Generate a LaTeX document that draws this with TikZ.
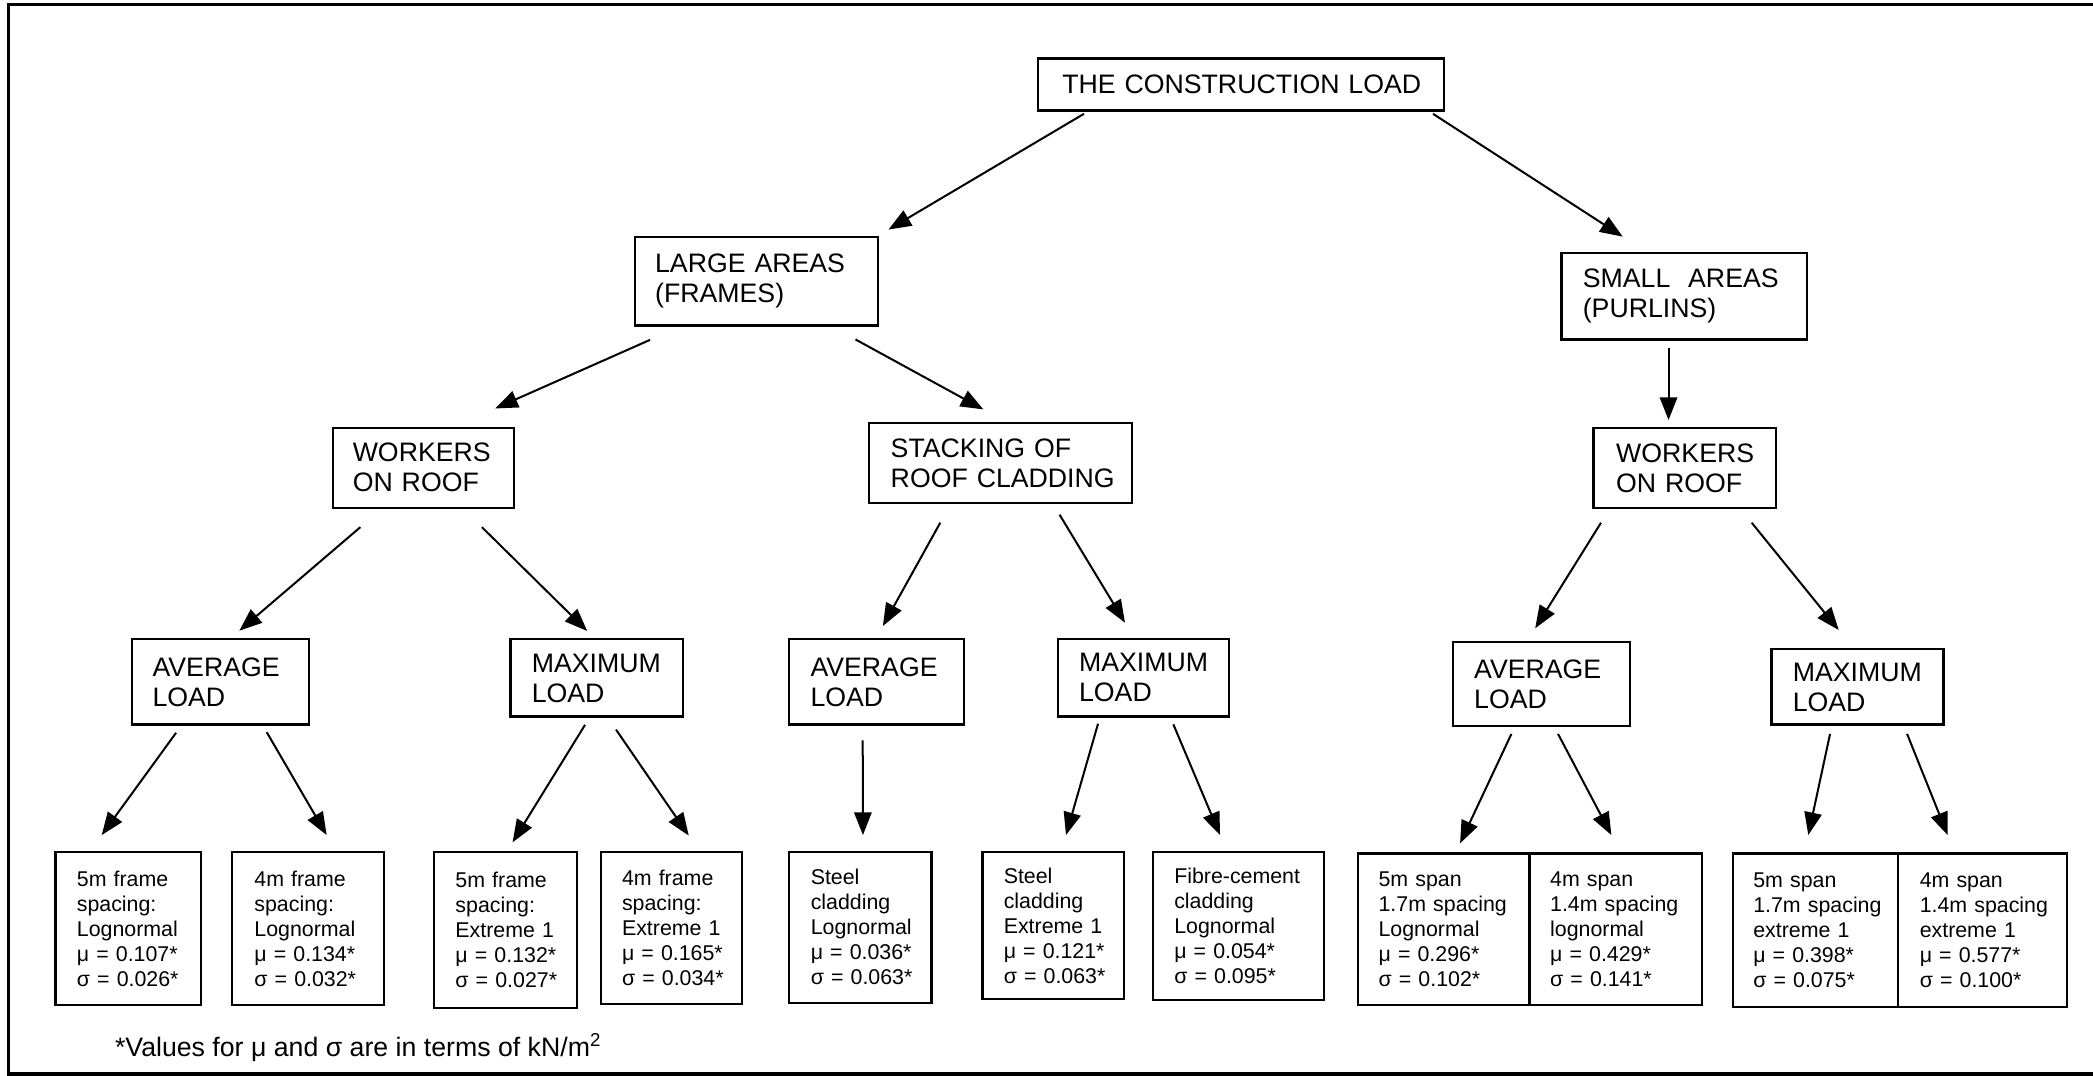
\documentclass[tikz,border=0pt]{standalone}
\usepackage{fontspec}
\setmainfont{Liberation Sans}
\usetikzlibrary{arrows.meta}
\hyphenpenalty=10000
\exhyphenpenalty=10000

% box from corner (x1,y1) to (x2,y2), text indented by a pad on both sides
% #1 style, #2 name, #3 x1, #4 y1, #5 x2, #6 y2, #7 pad, #8 text
\newcommand\placebox[8]{%
  \pgfmathsetmacro\bxw{#5-#3}%
  \pgfmathsetmacro\bxh{#6-#4}%
  \pgfmathsetmacro\bxt{#5-#3-2*#7}%
  \node[#1, anchor=north west, minimum width=\bxw pt, minimum height=\bxh pt,
        text width=\bxt pt] (#2) at (#3,#4) {#8};}

\tikzset{
  box/.style={draw, line width=1.6pt, inner sep=0pt, align=left},
  bigbox/.style={box, font=\fontsize{20}{22.5}\selectfont},
  leafbox/.style={box, font=\fontsize{16}{18.7}\selectfont},
  arr/.style={line width=1.5pt, -{Triangle[length=17pt,width=13pt]}},
}

\begin{document}
\begin{tikzpicture}[x=1pt, y=-1pt]
\useasboundingbox (0,0) rectangle (1568,806);

% page frame: left, top and bottom rules
\draw[line width=2.6pt] (1568,3.5) -- (6.5,3.5) -- (6.5,804.5) -- (1568,804.5);

% top levels
\placebox{bigbox}{root}{777}{43}{1081}{82}{18}{THE~CONSTRUCTION~LOAD}
\placebox{bigbox}{large}{475}{177}{657}{243}{15}{LARGE~AREAS\\(FRAMES)}
\placebox{bigbox}{small}{1169}{189}{1353}{253.5}{16}{SMALL~~AREAS\\(PURLINS)}
\placebox{bigbox}{workL}{248.5}{319.6}{384}{379.6}{15}{WORKERS\\ON~ROOF}
\placebox{bigbox}{stack}{650.5}{316.4}{847}{376.3}{16}{STACKING~OF\\ROOF~CLADDING}
\placebox{bigbox}{workR}{1193}{320}{1330}{380}{17}{WORKERS\\ON~ROOF}

% load types
\placebox{bigbox}{avgL}{98}{478.2}{231}{542}{15.5}{AVERAGE\\LOAD}
\placebox{bigbox}{maxL}{381.6}{478.2}{510.8}{536}{16}{MAXIMUM\\LOAD}
\placebox{bigbox}{avgS}{590.4}{478.2}{721.5}{542}{16}{AVERAGE\\LOAD}
\placebox{bigbox}{maxS}{791.6}{478}{920}{536}{16}{MAXIMUM\\LOAD}
\placebox{bigbox}{avgR}{1087.6}{480}{1220.3}{543.2}{16}{AVERAGE\\LOAD}
\placebox{bigbox}{maxR}{1326.3}{485.7}{1455.2}{542}{16}{MAXIMUM\\LOAD}

% distributions
\placebox{leafbox}{l1}{40.8}{637.3}{149.5}{752.4}{16}{5m~frame\\spacing:\\Lognormal\\μ~=~0.107*\\σ~=~0.026*}
\placebox{leafbox}{l2}{173.3}{637.3}{286.6}{752.4}{16.5}{4m~frame\\spacing:\\Lognormal\\μ~=~0.134*\\σ~=~0.032*}
\placebox{leafbox}{l3}{324.4}{637.3}{431.4}{754.2}{16}{5m~frame\\spacing:\\Extreme~1\\μ~=~0.132*\\σ~=~0.027*}
\placebox{leafbox}{l4}{449.2}{637.3}{555.1}{751.6}{16}{4m~frame\\spacing:\\Extreme~1\\μ~=~0.165*\\σ~=~0.034*}
\placebox{leafbox}{l5}{590.6}{637.3}{697}{750.4}{16}{Steel\\cladding\\Lognormal\\μ~=~0.036*\\σ~=~0.063*}
\placebox{leafbox}{l6}{735.2}{637.3}{841.5}{747.9}{16}{Steel\\cladding\\Extreme~1\\μ~=~0.121*\\σ~=~0.063*}
\placebox{leafbox}{l7}{862.9}{637.3}{991.3}{748.5}{16}{Fibre-cement\\cladding\\Lognormal\\μ~=~0.054*\\σ~=~0.095*}
\placebox{leafbox}{l8}{1016.5}{638.6}{1145}{752.4}{15.5}{5m~span\\1.7m~spacing\\Lognormal\\μ~=~0.296*\\σ~=~0.102*}
\placebox{leafbox}{l9}{1145}{638.6}{1274.5}{752.4}{15.5}{4m~span\\1.4m~spacing\\lognormal\\μ~=~0.429*\\σ~=~0.141*}
\placebox{leafbox}{l10}{1297.2}{638.6}{1421.4}{753.4}{15.5}{5m~span\\1.7m~spacing\\extreme~1\\μ~=~0.398*\\σ~=~0.075*}
\placebox{leafbox}{l11}{1421.4}{638.6}{1547.8}{753.4}{16}{4m~span\\1.4m~spacing\\extreme~1\\μ~=~0.577*\\σ~=~0.100*}

% footnote
\node[anchor=base west, inner sep=0pt, font=\fontsize{20}{24}\selectfont] (note) at (86,791.6)
  {*Values for μ and σ are in terms of kN/m\textsuperscript{2}};

% connectors
\draw[arr] ([xshift=35pt,yshift=-1.7pt]root.south west) -- ([xshift=7pt,yshift=5pt]large.north east);
\draw[arr] ([xshift=-9pt,yshift=-1.7pt]root.south east) -- ([xshift=46.7pt,yshift=11.7pt]small.north west);
\draw[arr] ([xshift=12pt,yshift=-10pt]large.south west) -- ([xshift=122.5pt,yshift=13.6pt]workL.north west);
\draw[arr] ([xshift=-17.7pt,yshift=-9.7pt]large.south east) -- ([xshift=86.2pt,yshift=9.7pt]stack.north west);
\draw[arr] ([xshift=81pt,yshift=-5.5pt]small.south west) -- ([xshift=57pt,yshift=5.3pt]workR.north west);

\draw[arr] ([xshift=21.5pt,yshift=-13.7pt]workL.south west) -- ([xshift=81.3pt,yshift=5.7pt]avgL.north west);
\draw[arr] ([xshift=112.5pt,yshift=-13.7pt]workL.south west) -- ([xshift=58.3pt,yshift=5.5pt]maxL.north west);
\draw[arr] ([xshift=53.9pt,yshift=-13.7pt]stack.south west) -- ([xshift=71pt,yshift=9.2pt]avgS.north west);
\draw[arr] ([xshift=143.3pt,yshift=-7.7pt]stack.south west) -- ([xshift=51.2pt,yshift=11.5pt]maxS.north west);
\draw[arr] ([xshift=6.4pt,yshift=-10pt]workR.south west) -- ([xshift=62.5pt,yshift=9.3pt]avgR.north west);
\draw[arr] ([xshift=119.3pt,yshift=-10pt]workR.south west) -- ([xshift=51.2pt,yshift=13.7pt]maxR.north west);

\draw[arr] ([xshift=33.9pt,yshift=-5.4pt]avgL.south west) -- ([xshift=35.4pt,yshift=11.7pt]l1.north west);
\draw[arr] ([xshift=101.8pt,yshift=-4.9pt]avgL.south west) -- ([xshift=71.4pt,yshift=11.7pt]l2.north west);
\draw[arr] ([xshift=56.7pt,yshift=-5.4pt]maxL.south west) -- ([xshift=59.6pt,yshift=6.3pt]l3.north west);
\draw[arr] ([xshift=79.9pt,yshift=-9pt]maxL.south west) -- ([xshift=66.8pt,yshift=11.3pt]l4.north west);
\draw[arr] ([xshift=55.9pt,yshift=-11pt]avgS.south west) -- ([xshift=55.9pt,yshift=11.7pt]l5.north west);
\draw[arr] ([xshift=31pt,yshift=-4.6pt]maxS.south west) -- ([xshift=63.4pt,yshift=11.7pt]l6.north west);
\draw[arr] ([xshift=87.4pt,yshift=-5pt]maxS.south west) -- ([xshift=51.1pt,yshift=11.7pt]l7.north west);
\draw[arr] ([xshift=44.7pt,yshift=-5pt]avgR.south west) -- ([xshift=77.3pt,yshift=6.8pt]l8.north west);
\draw[arr] ([xshift=79.6pt,yshift=-5pt]avgR.south west) -- ([xshift=62.2pt,yshift=13pt]l9.north west);
\draw[arr] ([xshift=44.7pt,yshift=-6.2pt]maxR.south west) -- ([xshift=57.5pt,yshift=13pt]l10.north west);
\draw[arr] ([xshift=102.4pt,yshift=-6.2pt]maxR.south west) -- ([xshift=37.7pt,yshift=13pt]l11.north west);
\end{tikzpicture}
\end{document}
